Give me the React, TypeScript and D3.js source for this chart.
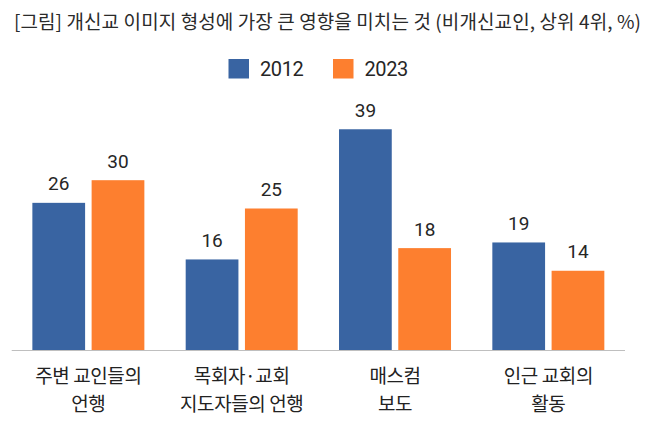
import React from "react";
import * as d3 from "d3";

const categories: string[][] = [
  ["주변 교인들의", "언행"],
  ["목회자·교회", "지도자들의 언행"],
  ["매스컴", "보도"],
  ["인근 교회의", "활동"],
];
const seriesNames = ["2012", "2023"];
const values2012 = [26, 16, 39, 19];
const values2023 = [30, 25, 18, 14];
const colors = ["#3964a2", "#fd7f2f"];
const title = "[그림] 개신교 이미지 형성에 가장 큰 영향을 미치는 것 (비개신교인, 상위 4위, %)";

const W = 654;
const H = 427;

export default function App() {
  const keys = categories.map((_, i) => String(i));
  const x = d3.scaleBand<string>().domain(keys).range([11.7, 625]).padding(0);
  const groupW = 112;
  const x1 = d3
    .scaleBand<string>()
    .domain(seriesNames)
    .range([0, groupW])
    .paddingInner(0.11);
  const y = d3.scaleLinear().domain([0, 40]).range([350, 123.6]);
  const series = [values2012, values2023];
  const kr = "'Noto Sans CJK KR', 'Noto Sans', sans-serif";
  const num = "Roboto, 'Noto Sans', sans-serif";

  return (
    <svg
      width={W}
      height={H}
      style={{ position: "absolute", left: 0, top: 0, background: "#fff" }}
    >
      <rect width={W} height={H} fill="#fff" />
      <text
        x={W / 2 + 0.5}
        y={29}
        textAnchor="middle"
        fontFamily={kr}
        fontSize={19}
        letterSpacing={0.1}
        fill="#2a2a2a"
      >
        {title}
      </text>
      {seriesNames.map((s, i) => {
        const lx = i === 0 ? 228.5 : 333;
        return (
          <g key={s}>
            <rect x={lx} y={59} width={20.5} height={19.5} fill={colors[i]} />
            <text
              x={lx + 31.5}
              y={75.5}
              fontFamily={num}
              fontSize={20}
              letterSpacing={-0.4}
              fill="#262626"
            >
              {s}
            </text>
          </g>
        );
      })}
      {keys.map((k, ci) => {
        const gx = (x(k) as number) + x.bandwidth() / 2 - groupW / 2;
        return (
          <g key={k}>
            {series.map((vals, si) => {
              const bx = gx + (x1(seriesNames[si]) as number);
              const v = vals[ci];
              return (
                <g key={si}>
                  <rect
                    x={bx}
                    y={y(v)}
                    width={x1.bandwidth()}
                    height={y(0) - y(v)}
                    fill={colors[si]}
                  />
                  <text
                    x={bx + x1.bandwidth() / 2}
                    y={y(v) - 12.5}
                    textAnchor="middle"
                    fontFamily={num}
                    fontSize={19}
                    fill="#262626"
                  >
                    {v}
                  </text>
                </g>
              );
            })}
            {categories[ci].map((line, li) => (
              <text
                key={li}
                x={(x(k) as number) + x.bandwidth() / 2}
                y={383 + li * 28}
                textAnchor="middle"
                fontFamily={kr}
                fontSize={19}
                letterSpacing={-0.4}
                fill="#222"
              >
                {line}
              </text>
            ))}
          </g>
        );
      })}
      <line x1={11.7} x2={625} y1={350.5} y2={350.5} stroke="#bfbfbf" strokeWidth={1.2} />
    </svg>
  );
}
